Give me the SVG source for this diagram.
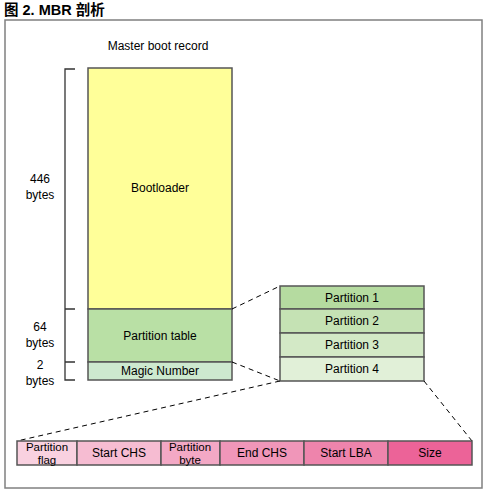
<svg xmlns="http://www.w3.org/2000/svg" width="490" height="492" viewBox="0 0 490 492">
<style>
text{font-family:"Liberation Sans",Arial,sans-serif;font-size:12px;fill:#000;text-anchor:middle}
.t{font-size:14.5px;font-weight:bold;text-anchor:start;font-family:"Liberation Sans","Noto Sans CJK SC",sans-serif}
.box{stroke:#555;stroke-width:1.5}
.br{fill:none;stroke:#333;stroke-width:1.3}
.d{fill:none;stroke:#000;stroke-width:1;stroke-dasharray:5,4}
.s{font-size:11.5px}
</style>
<rect width="490" height="492" fill="#fff"/>
<text class="t" x="4" y="15">图 2. MBR 剖析</text>
<rect x="5" y="20" width="477" height="468" fill="none" stroke="#808080" stroke-width="1.5"/>
<text x="158" y="50">Master boot record</text>
<g id="bracket">
<path class="br" d="M75,69H65V380H75M65,309H75M65,362H75"/>
<text x="40" y="183">446</text><text x="40" y="199">bytes</text>
<text x="40" y="331">64</text><text x="40" y="347">bytes</text>
<text x="40" y="369">2</text><text x="40" y="385">bytes</text>
</g>
<g id="bootloader"><rect class="box" x="88" y="68" width="144" height="241" fill="#ffff99"/><text x="160" y="192">Bootloader</text></g>
<g id="ptable"><rect class="box" x="88" y="309" width="144" height="53" fill="#b9e0a5"/><text x="160" y="340">Partition table</text></g>
<g id="magic"><rect class="box" x="88" y="362" width="144" height="18" fill="#cde9cf"/><text x="160" y="375">Magic Number</text></g>
<g id="p1"><rect class="box" x="280" y="286" width="144" height="23" fill="#b5dba0"/><text x="352" y="302">Partition 1</text></g>
<g id="p2"><rect class="box" x="280" y="309" width="144" height="24" fill="#c5e2b4"/><text x="352" y="325">Partition 2</text></g>
<g id="p3"><rect class="box" x="280" y="333" width="144" height="24" fill="#d3e9c6"/><text x="352" y="349">Partition 3</text></g>
<g id="p4"><rect class="box" x="280" y="357" width="144" height="24" fill="#e1f0d8"/><text x="352" y="373">Partition 4</text></g>
<g id="connectors">
<path class="d" d="M232,309L280,286M232,362L280,381M280,381L17,441M424,381L472,441"/>
</g>
<g id="flag"><rect class="box" x="17" y="441" width="60" height="24" fill="#f9d1e0"/><text class="s" x="47" y="451">Partition</text><text class="s" x="47" y="463.5">flag</text></g>
<g id="schs"><rect class="box" x="77" y="441" width="84" height="24" fill="#f6bcd2"/><text x="119" y="457">Start CHS</text></g>
<g id="pbyte"><rect class="box" x="161" y="441" width="59" height="24" fill="#f3a8c5"/><text class="s" x="190" y="451">Partition</text><text class="s" x="190" y="463.5">byte</text></g>
<g id="echs"><rect class="box" x="220" y="441" width="84" height="24" fill="#f096b9"/><text x="262" y="457">End CHS</text></g>
<g id="slba"><rect class="box" x="304" y="441" width="84" height="24" fill="#ee84ac"/><text x="346" y="457">Start LBA</text></g>
<g id="size"><rect class="box" x="388" y="441" width="84" height="24" fill="#ec6398"/><text x="430" y="457">Size</text></g>
</svg>
